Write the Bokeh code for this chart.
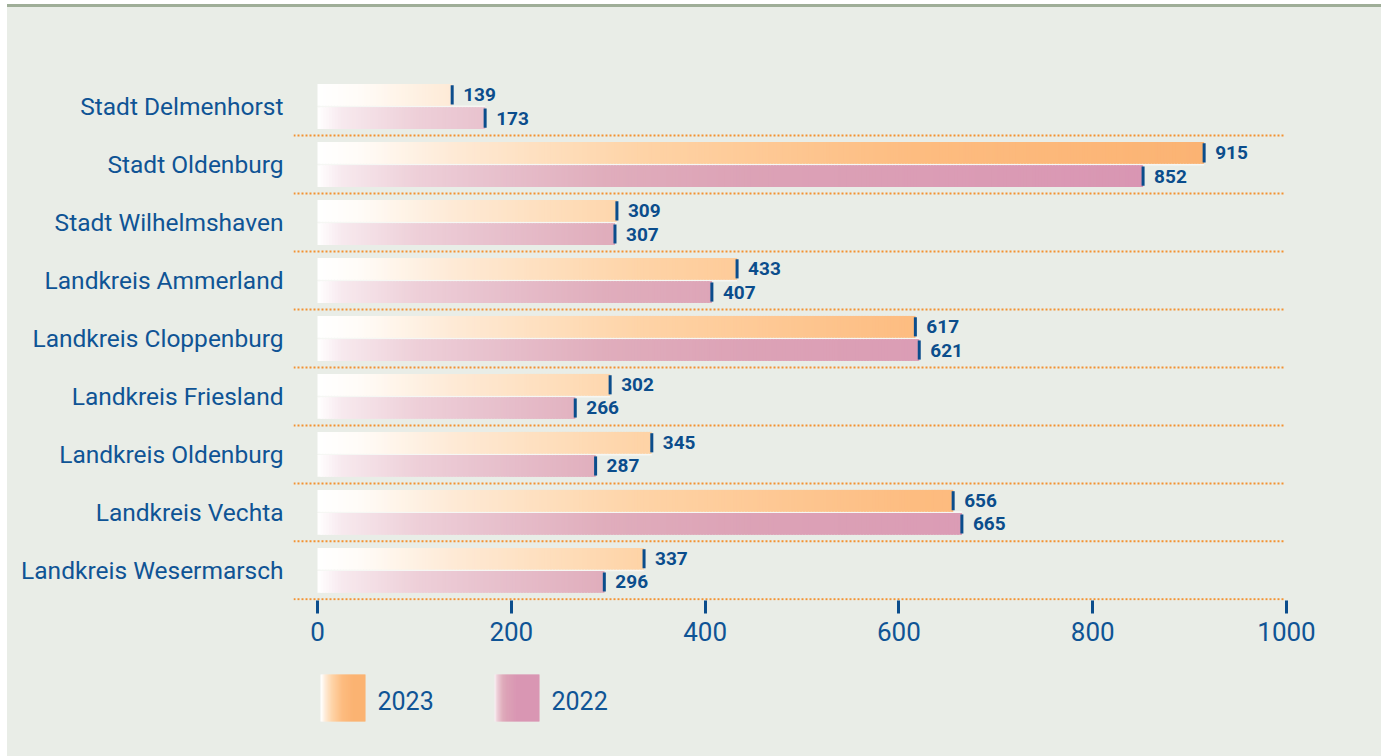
import numpy as np
from bokeh.plotting import figure
from bokeh.models import Range1d, FixedTicker, ColumnDataSource, Div
from bokeh.layouts import column
from bokeh.core.properties import value
from bokeh.embed import file_html
from bokeh.resources import INLINE

# ---------------- data ----------------
categories = ["Stadt Delmenhorst", "Stadt Oldenburg", "Stadt Wilhelmshaven",
              "Landkreis Ammerland", "Landkreis Cloppenburg", "Landkreis Friesland",
              "Landkreis Oldenburg", "Landkreis Vechta", "Landkreis Wesermarsch"]
values_2023 = [139, 915, 309, 433, 617, 302, 345, 656, 337]
values_2022 = [173, 852, 307, 407, 621, 266, 287, 665, 296]
x_ticks = [0, 200, 400, 600, 800, 1000]
series_names = ["2023", "2022"]

# ---------------- style ----------------
BG = "#e9ede7"
TEXT = "#0f5495"
MARK = "#0b4d8c"
SEP = "#f39232"
FONT = "Roboto"
ORANGE_STOPS = [(0, (255, 255, 255)), (40, (255, 252, 248)), (139, (254, 234, 214)),
                (250, (254, 221, 186)), (337, (254, 211, 166)), (617, (253, 188, 128)),
                (915, (251, 179, 115)), (1000, (251, 177, 112))]
PINK_STOPS = [(0, (255, 255, 255)), (25, (247, 233, 238)), (100, (238, 208, 217)),
              (173, (232, 194, 206)), (296, (224, 173, 188)), (450, (220, 162, 182)),
              (621, (219, 157, 181)), (852, (217, 150, 179)), (1000, (216, 148, 178))]


def interp_color(stops, v):
    xs = [s[0] for s in stops]
    ch = [int(round(np.interp(v, xs, [s[1][k] for s in stops]))) for k in range(3)]
    return "#%02x%02x%02x" % tuple(ch)


n = len(categories)
group_y = [n - 1 - i for i in range(n)]
OFF = 0.2
HALF = 0.1875
y23 = [g + OFF for g in group_y]
y22 = [g - OFF for g in group_y]

STEP = 3.0


def slice_source(vals, ys, stops):
    L, R, B, T, C = [], [], [], [], []
    for v, yc in zip(vals, ys):
        for e in np.arange(0, v, STEP):
            L.append(float(e))
            R.append(float(min(e + STEP * 1.7, v)))
            B.append(yc - HALF)
            T.append(yc + HALF)
            C.append(interp_color(stops, e + STEP / 2))
    return ColumnDataSource(dict(left=L, right=R, bottom=B, top=T, color=C))


# ---------------- main figure ----------------
PX_PER_UNIT = 0.969
ZERO_PX = 317          # page x of value 0 (layout)
x_start = -24 / PX_PER_UNIT
x_end = 1000 + 4 / PX_PER_UNIT
FIG_W = 1374
MB_L, MB_R = 286, 91

p = figure(width=FIG_W, height=653, output_backend="svg", toolbar_location=None,
           x_range=Range1d(x_start, x_end), y_range=Range1d(-0.52, n - 0.5),
           min_border_left=MB_L, min_border_right=MB_R, min_border_top=70, min_border_bottom=60)
p.background_fill_color = BG
p.border_fill_color = BG
p.outline_line_color = None
p.grid.visible = False

# thin light gap line between the two bars of a group
p.hbar(y=group_y, left=0, right=[max(a, b) for a, b in zip(values_2023, values_2022)],
       height=0.035, fill_color="#f6f7f4", line_color=None)

p.quad(left="left", right="right", bottom="bottom", top="top", fill_color="color",
       line_color=None, source=slice_source(values_2023, y23, ORANGE_STOPS))
p.quad(left="left", right="right", bottom="bottom", top="top", fill_color="color",
       line_color=None, source=slice_source(values_2022, y22, PINK_STOPS))

# separators
sep_y = [g - 0.5 for g in group_y]
p.segment(x0=[x_start] * n, x1=[998] * n, y0=sep_y, y1=sep_y,
          line_color=SEP, line_width=2, line_dash="2 2")

# value markers and labels
all_vals = values_2023 + values_2022
all_y = y23 + y22
p.segment(x0=all_vals, x1=all_vals, y0=[y - 0.165 for y in all_y], y1=[y + 0.165 for y in all_y],
          line_color=MARK, line_width=3)
p.text(x=all_vals, y=all_y, text=[str(v) for v in all_vals], x_offset=11,
       text_baseline="middle", text_align="left", text_color=MARK,
       text_font=value(FONT), text_font_style="bold", text_font_size="19px")

# axes
p.xaxis.ticker = FixedTicker(ticks=x_ticks)
p.xaxis.axis_line_color = None
p.xaxis.major_tick_in = 0
p.xaxis.major_tick_out = 13
p.xaxis.major_tick_line_width = 3
p.xaxis.major_tick_line_color = MARK
p.xaxis.minor_tick_line_color = None
p.xaxis.major_label_text_font = FONT
p.xaxis.major_label_text_font_size = "26px"
p.xaxis.major_label_text_color = TEXT
p.xaxis.major_label_standoff = 8

p.yaxis.ticker = FixedTicker(ticks=group_y)
p.yaxis.major_label_overrides = {g: c for g, c in zip(group_y, categories)}
p.yaxis.axis_line_color = None
p.yaxis.major_tick_line_color = None
p.yaxis.minor_tick_line_color = None
p.yaxis.major_tick_out = 0
p.yaxis.major_tick_in = 0
p.yaxis.major_label_standoff = 10
p.yaxis.major_label_text_font = FONT
p.yaxis.major_label_text_font_size = "24.5px"
p.yaxis.major_label_text_color = TEXT

# ---------------- legend figure (shares the x scale) ----------------
LG_H = 96
lg = figure(width=FIG_W, height=LG_H, output_backend="svg", toolbar_location=None,
            title=None, x_range=p.x_range, y_range=Range1d(0, LG_H),
            x_axis_location=None, y_axis_location=None,
            min_border_left=MB_L, min_border_right=MB_R, min_border_top=0, min_border_bottom=0)
lg.background_fill_color = BG
lg.border_fill_color = BG
lg.outline_line_color = None
lg.grid.visible = False


def px2data(px):
    return (px - ZERO_PX) / PX_PER_UNIT


SW_PX = [320, 494]
SW_W_PX = 45
# swatch spans 14..61 px below the legend's top edge
SW_B, SW_T = LG_H - 61, LG_H - 14
maxes = [max(values_2023), max(values_2022)]
stops_list = [ORANGE_STOPS, PINK_STOPS]
gains = [1.4, 2.0]
for sx, mx, st, gn in zip(SW_PX, maxes, stops_list, gains):
    L, R, C = [], [], []
    for k in np.arange(0, SW_W_PX, 1.0):
        f = (k + 0.5) / SW_W_PX
        L.append(px2data(sx + k))
        R.append(px2data(sx + min(k + 1.6, SW_W_PX)))
        C.append(interp_color(st, min(1.0, f * gn) * mx))
    lg.quad(left=L, right=R, bottom=[SW_B] * len(L), top=[SW_T] * len(L),
            fill_color=C, line_color=None)
lg.text(x=[px2data(sx + SW_W_PX + 12) for sx in SW_PX], y=[LG_H - 40] * 2, text=series_names,
        text_baseline="middle", text_align="left", text_color=TEXT,
        text_font=value(FONT), text_font_size="25px")

top_line = Div(text="", width=FIG_W, height=3, margin=(0, 0, 0, 0),
               styles={"background-color": "#9fae98"})

layout = column(top_line, p, lg, spacing=0, margin=(4, 0, 0, 7),
                styles={"background-color": BG})
open("out.html", "w").write(file_html(layout, INLINE))
